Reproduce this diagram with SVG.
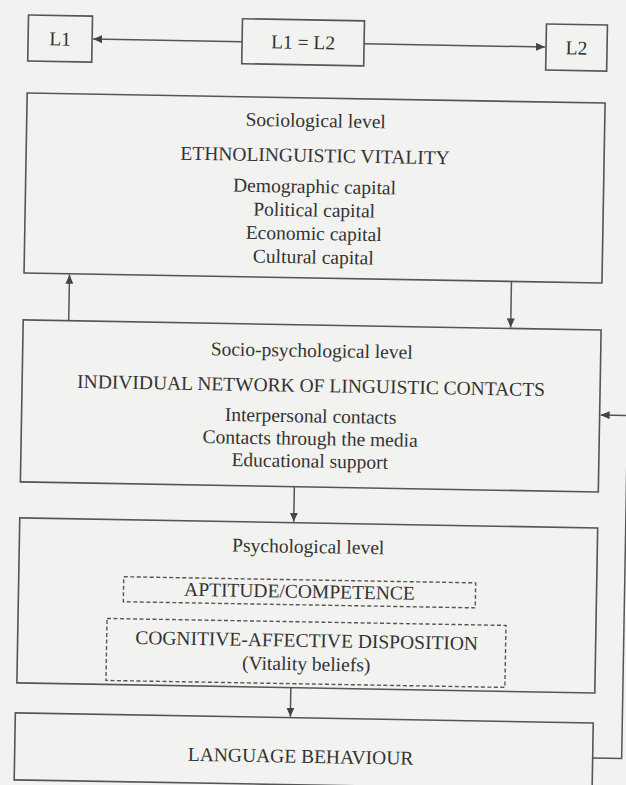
<svg xmlns="http://www.w3.org/2000/svg" width="626" height="785" viewBox="0 0 626 785">
  <style>
    .box { fill: none; stroke: #555; stroke-width: 1.6; }
    .dash { fill: none; stroke: #555; stroke-width: 1.4; stroke-dasharray: 4 2.5; }
    .link { fill: none; stroke: #555; stroke-width: 1.5; }
    text { font-family: "Liberation Serif", "Times New Roman", serif; font-size: 19.5px; fill: #333; text-anchor: middle; }
  </style>
  <defs>
    <marker id="arrow" viewBox="0 0 9 8" refX="9" refY="4" markerWidth="9" markerHeight="8" markerUnits="userSpaceOnUse" orient="auto">
      <path d="M0,0 L9,4 L0,8 z" fill="#444"/>
    </marker>
  </defs>

  <rect x="0" y="0" width="626" height="785" fill="#f2f2f0"/>

  <!-- whole page is set slightly askew -->
  <g transform="rotate(1 313 392)">
    <g id="connectors">
      <line class="link" x1="236" y1="43" x2="87" y2="43" marker-end="url(#arrow)"/>
      <line class="link" x1="358" y1="43" x2="539" y2="43" marker-end="url(#arrow)"/>
      <line class="link" x1="67.5" y1="325" x2="67.5" y2="279" marker-end="url(#arrow)"/>
      <line class="link" x1="509.5" y1="278" x2="509.5" y2="324" marker-end="url(#arrow)"/>
      <line class="link" x1="296" y1="487" x2="296" y2="522" marker-end="url(#arrow)"/>
      <line class="link" x1="296" y1="688" x2="296" y2="717" marker-end="url(#arrow)"/>
      <polyline class="link" points="599,753 628,753 628,410 601,410" marker-end="url(#arrow)"/>
    </g>

    <g id="node-l1">
      <rect class="box" x="22" y="20" width="64" height="46"/>
      <text x="54" y="50">L1</text>
    </g>
    <g id="node-l1-l2">
      <rect class="box" x="236" y="20" width="122" height="45"/>
      <text x="297" y="49">L1 = L2</text>
    </g>
    <g id="node-l2">
      <rect class="box" x="540" y="20" width="61" height="46"/>
      <text x="570.5" y="50">L2</text>
    </g>

    <g id="node-sociological">
      <rect class="box" x="22" y="98" width="578" height="180"/>
      <text x="311" y="127">Sociological level</text>
      <text x="311" y="162">ETHNOLINGUISTIC VITALITY</text>
      <text x="311" y="193">Demographic capital</text>
      <text x="311" y="216.5">Political capital</text>
      <text x="311" y="240">Economic capital</text>
      <text x="311" y="263.5">Cultural capital</text>
    </g>

    <g id="node-socio-psychological">
      <rect class="box" x="22" y="325" width="578" height="162"/>
      <text x="311" y="357">Socio-psychological level</text>
      <text x="311" y="392">INDIVIDUAL NETWORK OF LINGUISTIC CONTACTS</text>
      <text x="311" y="422.5">Interpersonal contacts</text>
      <text x="311" y="445">Contacts through the media</text>
      <text x="311" y="467.5">Educational support</text>
    </g>

    <g id="node-psychological">
      <rect class="box" x="22" y="523" width="578" height="165"/>
      <text x="311" y="553">Psychological level</text>
      <g id="node-aptitude">
        <rect class="dash" x="127" y="580" width="352" height="25"/>
        <text x="303" y="598">APTITUDE/COMPETENCE</text>
      </g>
      <g id="node-disposition">
        <rect class="dash" x="111" y="622" width="399" height="62"/>
        <text x="311" y="647">COGNITIVE-AFFECTIVE DISPOSITION</text>
        <text x="311" y="670.5">(Vitality beliefs)</text>
      </g>
    </g>

    <g id="node-behaviour">
      <rect class="box" x="21" y="718" width="578" height="67"/>
      <text x="307" y="763">LANGUAGE BEHAVIOUR</text>
    </g>
  </g>
</svg>
